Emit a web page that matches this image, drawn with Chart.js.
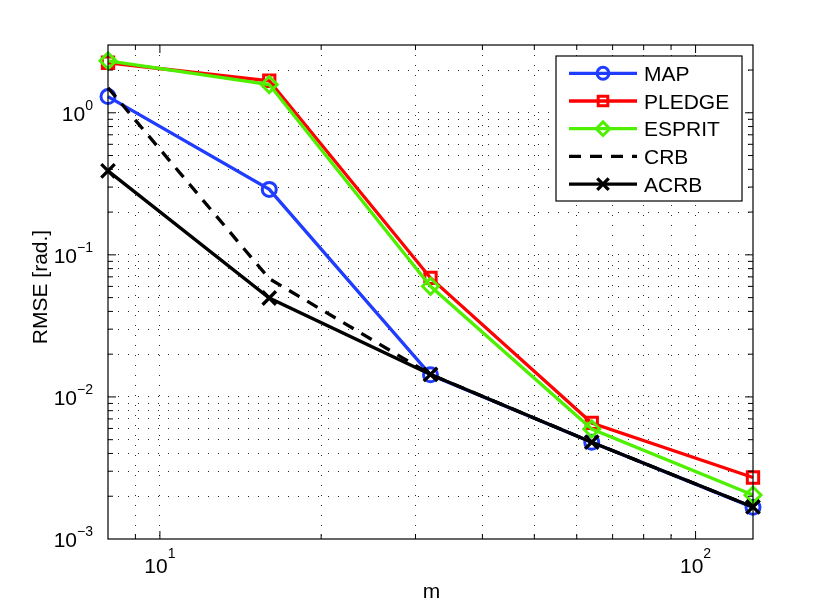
<!DOCTYPE html>
<html>
<head>
<meta charset="utf-8">
<script src="https://cdn.jsdelivr.net/npm/chart.js@4"></script>
<style>
html,body{margin:0;padding:0;background:#fff;}
#wrap{width:830px;height:608px;position:relative;}
</style>
</head>
<body>
<div id="wrap"><canvas id="c"></canvas></div>
<script>
// ---- data ----
const mValues = [8, 16, 32, 64, 128];
const seriesNames = ['MAP', 'PLEDGE', 'ESPRIT', 'CRB', 'ACRB'];
const mapRMSE    = [1.30, 0.289, 0.0143, 0.00479, 0.00167];
const pledgeRMSE = [2.25, 1.68, 0.0688, 0.00656, 0.00271];
const espritRMSE = [2.32, 1.58, 0.0601, 0.00595, 0.00204];
const crbRMSE    = [1.50, 0.068, 0.0144, 0.00480, 0.00168];
const acrbRMSE   = [0.39, 0.0497, 0.0144, 0.00480, 0.00168];
const yDecadeExponents = [-3, -2, -1, 0];
const xDecadeExponents = [1, 2];
const xLabel = 'm';
const yLabel = 'RMSE [rad.]';

const FONT = '"Liberation Sans", Arial, Helvetica, sans-serif';

function pts(arr){ return arr.map((v,i)=>({x:mValues[i], y:v})); }

function minorTicks(lo, hi){
  const out = [];
  for (let e = Math.floor(Math.log10(lo)); e <= Math.ceil(Math.log10(hi)); e++){
    for (let k = 1; k <= 9; k++){
      const v = k * Math.pow(10, e);
      if (v > lo * 1.0001 && v < hi * 0.9999) out.push(v);
    }
  }
  return out;
}

const X_MIN = 8, X_MAX = 128, Y_MIN = 1e-3, Y_MAX = 3;

const datasets = [
  {label: seriesNames[0], data: pts(mapRMSE), borderColor:'#1f3cff', pointStyle:'circle', pointRadius:7, pointBorderWidth:3, order:5},
  {label: seriesNames[1], data: pts(pledgeRMSE), borderColor:'#ff0000', pointStyle:'rect', pointRadius:8, pointBorderWidth:3, order:4},
  {label: seriesNames[2], data: pts(espritRMSE), borderColor:'#4ef000', pointStyle:'rectRot', pointRadius:8, pointBorderWidth:3, order:3},
  {label: seriesNames[3], data: pts(crbRMSE), borderColor:'#000000', pointStyle:false, pointRadius:0, borderDash:[12,9], order:2},
  {label: seriesNames[4], data: pts(acrbRMSE), borderColor:'#000000', pointStyle:'crossRot', pointRadius:9.5, pointBorderWidth:3.3, order:1},
].map(d => Object.assign({
  borderWidth: 3.3,
  backgroundColor: 'rgba(0,0,0,0)',
  pointBackgroundColor: 'rgba(0,0,0,0)',
  pointBorderColor: d.borderColor,
  pointHoverRadius: d.pointRadius,
  tension: 0,
  clip: false
}, d));

const matlabPlugin = {
  id: 'matlab',
  afterDatasetsDraw(chart){
    const ctx = chart.ctx;
    const a = chart.chartArea;
    const xs = chart.scales.x, ys = chart.scales.y;
    ctx.save();
    // box
    ctx.strokeStyle = '#000';
    ctx.lineWidth = 1.2;
    ctx.strokeRect(a.left, a.top, a.right - a.left, a.bottom - a.top);
    // inward ticks
    ctx.lineWidth = 1;
    xs.ticks.forEach(t => {
      const px = xs.getPixelForValue(t.value);
      const major = Math.abs(Math.log10(t.value) - Math.round(Math.log10(t.value))) < 1e-9;
      const len = major ? 8 : 5;
      ctx.beginPath();
      ctx.moveTo(px, a.bottom); ctx.lineTo(px, a.bottom - len);
      ctx.moveTo(px, a.top); ctx.lineTo(px, a.top + len);
      ctx.stroke();
    });
    ys.ticks.forEach(t => {
      const py = ys.getPixelForValue(t.value);
      const major = Math.abs(Math.log10(t.value) - Math.round(Math.log10(t.value))) < 1e-9;
      const len = major ? 8 : 5;
      ctx.beginPath();
      ctx.moveTo(a.left, py); ctx.lineTo(a.left + len, py);
      ctx.moveTo(a.right, py); ctx.lineTo(a.right - len, py);
      ctx.stroke();
    });
    // tick labels with superscripts
    ctx.fillStyle = '#000';
    const base = '21px ' + FONT, sup = '14px ' + FONT, leg = '21px ' + FONT;
    function expStr(e){ return e < 0 ? '\u2212' + Math.abs(e) : String(e); }
    yDecadeExponents.forEach(e => {
      const py = ys.getPixelForValue(Math.pow(10, e));
      ctx.font = sup; const es = expStr(e); const ew = ctx.measureText(es).width;
      ctx.font = base; const bw = ctx.measureText('10').width;
      const right = a.left - 15;
      ctx.textAlign = 'left'; ctx.textBaseline = 'alphabetic';
      ctx.font = base; ctx.fillText('10', right - ew - bw, py + 8);
      ctx.font = sup; ctx.fillText(es, right - ew, py - 3);
    });
    xDecadeExponents.forEach(e => {
      const px = xs.getPixelForValue(Math.pow(10, e));
      ctx.font = sup; const es = expStr(e); const ew = ctx.measureText(es).width;
      ctx.font = base; const bw = ctx.measureText('10').width;
      const left = px - (bw + ew) / 2;
      ctx.textAlign = 'left'; ctx.textBaseline = 'alphabetic';
      ctx.font = base; ctx.fillText('10', left, a.bottom + 34);
      ctx.font = sup; ctx.fillText(es, left + bw, a.bottom + 19);
    });
    // axis titles
    ctx.font = base;
    ctx.textAlign = 'center';
    ctx.fillText(xLabel, (a.left + a.right) / 2 + 1, a.bottom + 59);
    ctx.save();
    ctx.translate(47, 287);
    ctx.rotate(-Math.PI / 2);
    ctx.fillText(yLabel, 0, 0);
    ctx.restore();

    // legend
    const L = {x: 556, y: 56, w: 186, h: 145};
    ctx.fillStyle = '#fff';
    ctx.fillRect(L.x, L.y, L.w, L.h);
    ctx.strokeStyle = '#000'; ctx.lineWidth = 1.2;
    ctx.strokeRect(L.x, L.y, L.w, L.h);
    chart.data.datasets.forEach((ds, i) => {
      const cy = 73.3 + i * 27.7;
      ctx.strokeStyle = ds.borderColor;
      ctx.lineWidth = ds.borderWidth;
      ctx.setLineDash(ds.borderDash || []);
      ctx.beginPath(); ctx.moveTo(569, cy); ctx.lineTo(637, cy); ctx.stroke();
      ctx.setLineDash([]);
      if (ds.pointStyle && ds.pointRadius > 0){
        ctx.lineWidth = ds.pointBorderWidth;
        ctx.strokeStyle = ds.borderColor;
        ctx.fillStyle = 'rgba(0,0,0,0)';
        Chart.helpers.drawPoint(ctx, {pointStyle: ds.pointStyle, radius: ds.pointRadius * 0.85, borderWidth: ds.pointBorderWidth, rotation: 0}, 603, cy);
      }
      ctx.fillStyle = '#000';
      ctx.font = leg; ctx.textAlign = 'left'; ctx.textBaseline = 'alphabetic';
      ctx.fillText(ds.label, 644, cy + 7.5);
    });
    ctx.restore();
  }
};

const gridOpts = {color: 'rgba(0,0,0,0.85)', lineWidth: 1, drawTicks: false, borderDash: [1, 9]};

new Chart(document.getElementById('c'), {
  type: 'line',
  data: {datasets},
  options: {
    responsive: true,
    maintainAspectRatio: false,
    devicePixelRatio: 1,
    animation: false,
    layout: {padding: {top: 45, right: 77, left: 0, bottom: 0}},
    plugins: {legend: {display: false}, tooltip: {enabled: false}},
    events: [],
    scales: {
      x: {
        type: 'logarithmic', min: X_MIN, max: X_MAX,
        grid: gridOpts,
        border: {display: false, dash: [1, 9]},
        ticks: {display: false},
        afterBuildTicks: s => { s.ticks = minorTicks(X_MIN, X_MAX).map(v => ({value: v})); },
        afterFit: s => { s.height = 69; }
      },
      y: {
        type: 'logarithmic', min: Y_MIN, max: Y_MAX,
        grid: gridOpts,
        border: {display: false, dash: [1, 9]},
        ticks: {display: false},
        afterBuildTicks: s => { s.ticks = minorTicks(Y_MIN, Y_MAX).map(v => ({value: v})); },
        afterFit: s => { s.width = 108; }
      }
    }
  },
  plugins: [matlabPlugin]
});
</script>
</body>
</html>
